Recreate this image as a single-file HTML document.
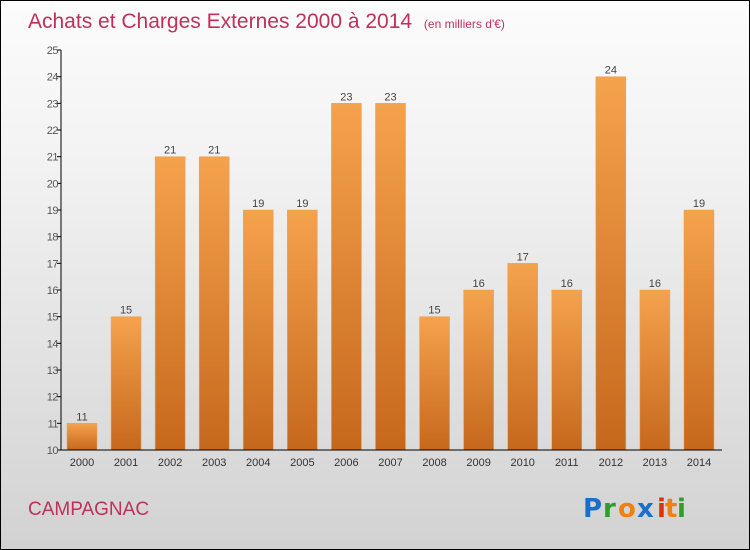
<!DOCTYPE html>
<html><head><meta charset="utf-8"><style>
body{margin:0}
#c{position:relative;width:748px;height:548px;border:1px solid #000;background:linear-gradient(#fcfcfc,#f2f2f2 30%,#d2d2d2);overflow:hidden;font-family:"Liberation Sans",sans-serif}
</style></head><body>
<div id="c">
<svg width="748" height="548" xmlns="http://www.w3.org/2000/svg">
<defs><linearGradient id="g" x1="0" y1="0" x2="0" y2="1"><stop offset="0" stop-color="#f5a24d"/><stop offset="1" stop-color="#c6681c"/></linearGradient></defs>
<text x="27" y="27" font-size="21" fill="#c0305a" font-family="Liberation Sans">Achats et Charges Externes 2000 à 2014 <tspan font-size="12" dx="6">(en milliers d'€)</tspan></text>
<g id="plot"></g>
<text x="27" y="514" font-size="19" fill="#c0305a">CAMPAGNAC</text>
<g font-size="26" font-weight="bold" font-family="DejaVu Sans">
<text x="582" y="516" fill="#1a6fcc">P</text><text x="602" y="516" fill="#2aa02a">r</text><text x="617" y="516" fill="#f08010">o</text><text x="636" y="516" fill="#1a6fcc">x</text><text x="656" y="516" fill="#e03010">i</text><text x="664" y="516" fill="#f08010">t</text><text x="676" y="516" fill="#2aa02a">i</text></g>
</svg></div>
<script>
const categories=["2000","2001","2002","2003","2004","2005","2006","2007","2008","2009","2010","2011","2012","2013","2014"];
const values=[11,15,21,21,19,19,23,23,15,16,17,16,24,16,19];
const yTicks=[10,11,12,13,14,15,16,17,18,19,20,21,22,23,24,25];
const NS="http://www.w3.org/2000/svg";
const g=document.getElementById('plot');
const y=v=>449-(v-10)*(400/15);
const x=i=>81+i*44.07;
function mk(t,a,txt){const e=document.createElementNS(NS,t);for(const k in a)e.setAttribute(k,a[k]);if(txt!==undefined)e.textContent=txt;g.appendChild(e);return e;}
yTicks.forEach(v=>{
const l=mk('line',{x1:56,x2:60,y1:y(v),y2:y(v),stroke:'#000'});


const t=mk('text',{x:57,y:y(v)+4,'text-anchor':'end','font-size':11,fill:'#555','letter-spacing':'-0.5'},v);


});
categories.forEach((c,i)=>{
const b=mk('rect',{x:x(i)-15,y:y(values[i]),width:30,height:y(10)-y(values[i]),fill:'url(#g)',stroke:'#f0a050','stroke-width':0.5});


const v=mk('text',{x:x(i),y:y(values[i])-3,'text-anchor':'middle','font-size':11,fill:'#444'},values[i]);


const t=mk('text',{x:x(i),y:465,'text-anchor':'middle','font-size':11,fill:'#333'},c);


});
const ya=mk('line',{x1:60,x2:60,y1:y(25),y2:y(10),stroke:'#000'});


const xa=mk('line',{x1:60,x2:721,y1:y(10),y2:y(10),stroke:'#000'});


</script>
</body></html>
